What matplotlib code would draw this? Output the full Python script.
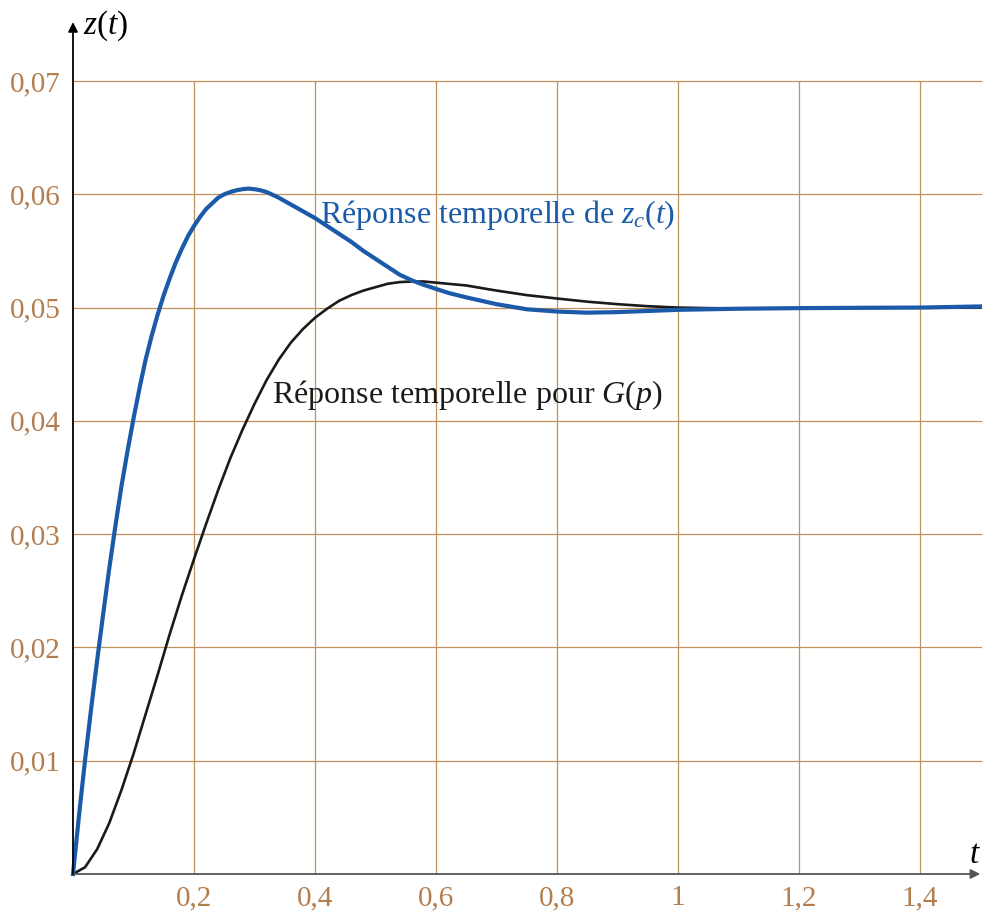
import matplotlib
matplotlib.use("Agg")
import matplotlib.pyplot as plt
from matplotlib.ticker import FixedLocator, FuncFormatter

t_zc = [0, 0.01, 0.02, 0.03, 0.04, 0.05, 0.06, 0.07, 0.08, 0.09, 0.1, 0.11, 0.12,
        0.13, 0.14, 0.15, 0.16, 0.17, 0.18, 0.19, 0.2, 0.21, 0.22, 0.23, 0.24,
        0.25, 0.26, 0.27, 0.28, 0.29, 0.3, 0.31, 0.32, 0.34, 0.36, 0.38, 0.4,
        0.42, 0.44, 0.46, 0.48, 0.5, 0.52, 0.54, 0.56, 0.58, 0.6, 0.62, 0.65,
        0.7, 0.75, 0.8, 0.85, 0.9, 0.95, 1.0, 1.1, 1.2, 1.3, 1.4, 1.5]
z_zc = [0, 0.0052, 0.0101, 0.0146, 0.0189, 0.0230, 0.0270, 0.0307, 0.0342, 0.0373,
        0.0402, 0.0429, 0.0454, 0.0475, 0.0494, 0.0511, 0.0526, 0.0540, 0.0552,
        0.0563, 0.0572, 0.0580, 0.0587, 0.0592, 0.0597, 0.0600, 0.0602, 0.06035,
        0.06045, 0.0605, 0.06045, 0.06035, 0.0602, 0.0597, 0.0591, 0.0585, 0.0579,
        0.0572, 0.0565, 0.0558, 0.0550, 0.0543, 0.0536, 0.0529, 0.0524, 0.0520,
        0.05165, 0.0513, 0.0509, 0.0503, 0.04985, 0.04965, 0.04955, 0.0496, 0.0497,
        0.0498, 0.0499, 0.04995, 0.04998, 0.0500, 0.0501]

t_g = [0, 0.02, 0.04, 0.06, 0.08, 0.1, 0.12, 0.14, 0.16, 0.18, 0.2, 0.22, 0.24,
       0.26, 0.28, 0.3, 0.32, 0.34, 0.36, 0.38, 0.4, 0.42, 0.44, 0.46, 0.48, 0.5,
       0.52, 0.54, 0.56, 0.58, 0.6, 0.65, 0.7, 0.75, 0.8, 0.85, 0.9, 0.95, 1.0,
       1.05, 1.1, 1.2, 1.3, 1.4, 1.5]
z_g = [0, 0.0006, 0.0022, 0.0045, 0.0074, 0.0106, 0.0141, 0.0176, 0.0212, 0.0246,
       0.0278, 0.0309, 0.0339, 0.0367, 0.0392, 0.0415, 0.0436, 0.0454, 0.0469,
       0.0481, 0.0491, 0.0499, 0.0506, 0.0511, 0.0515, 0.0518, 0.0521, 0.05225,
       0.0523, 0.0523, 0.0522, 0.05195, 0.0515, 0.0511, 0.0508, 0.05052, 0.0503,
       0.05012, 0.0500, 0.04995, 0.04993, 0.04994, 0.04997, 0.0500, 0.0500]

xticks = [0.2, 0.4, 0.6, 0.8, 1.0, 1.2, 1.4]
yticks = [0.01, 0.02, 0.03, 0.04, 0.05, 0.06, 0.07]

plt.rcParams['font.family'] = ['Liberation Serif', 'DejaVu Serif']
plt.rcParams['mathtext.fontset'] = 'custom'
plt.rcParams['mathtext.rm'] = 'Liberation Serif'
plt.rcParams['mathtext.it'] = 'Liberation Serif:italic'

brun = '#b47d4e'
grille = '#c0905f'
bleu = '#1b5aa8'

fig = plt.figure(figsize=(9.82, 9.16), dpi=100)
W, H = 982, 916
ax = fig.add_axes([73 / W, (H - 874) / H, (980.5 - 73) / W, (874 - 81) / H])
ax.set_xlim(0, 1.5)
ax.set_ylim(0, 0.07)

for s in ax.spines.values():
    s.set_visible(False)

# grille
for x in xticks:
    ax.plot([x, x], [0, 0.07], color=grille, lw=0.9, zorder=1)
for y in yticks:
    ax.plot([0, 1.5], [y, y], color=grille, lw=0.9, zorder=1, clip_on=False)

ax.xaxis.set_major_locator(FixedLocator(xticks))
ax.yaxis.set_major_locator(FixedLocator(yticks))
ax.xaxis.set_major_formatter(FuncFormatter(lambda v, p: f"{v:g}".replace('.', ',')))
ax.yaxis.set_major_formatter(FuncFormatter(lambda v, p: f"{v:.2f}".replace('.', ',')))
ax.tick_params(axis='both', length=0, labelsize=21, labelcolor=brun)
ax.tick_params(axis='x', pad=8)
ax.tick_params(axis='y', pad=9)

# courbes
ax.plot(t_g, z_g, color='#1a1a1a', lw=1.9, zorder=3, clip_on=False,
        solid_joinstyle='round')
ax.plot(t_zc, z_zc, color=bleu, lw=3.0, zorder=4, clip_on=False,
        solid_joinstyle='round')

# axes avec flèches
ax.annotate('', xy=(1.4995, 0), xytext=(0, 0),
            arrowprops=dict(arrowstyle='-|>', color='#555555', lw=1.3,
                            mutation_scale=14, shrinkA=0, shrinkB=0),
            annotation_clip=False, zorder=5)
ax.annotate('', xy=(0, 0.0752), xytext=(0, 0),
            arrowprops=dict(arrowstyle='-|>', color='black', lw=1.3,
                            mutation_scale=14, shrinkA=0, shrinkB=0),
            annotation_clip=False, zorder=5)

ax.text(0.0165, 0.0742, r'$z(t)$', fontsize=24, ha='left', va='baseline', clip_on=False)
ax.text(1.5008, 0.00097, r'$t$', fontsize=24, ha='right', va='baseline', clip_on=False)

ax.text(0.408, 0.05748, r'Réponse temporelle de $z_c(t)$', color=bleu,
        fontsize=23, ha='left', va='baseline')
ax.text(0.329, 0.04154, r'Réponse temporelle pour $G(p)$', color='#1a1a1a',
        fontsize=23, ha='left', va='baseline')

fig.savefig('out.png', dpi=100)
